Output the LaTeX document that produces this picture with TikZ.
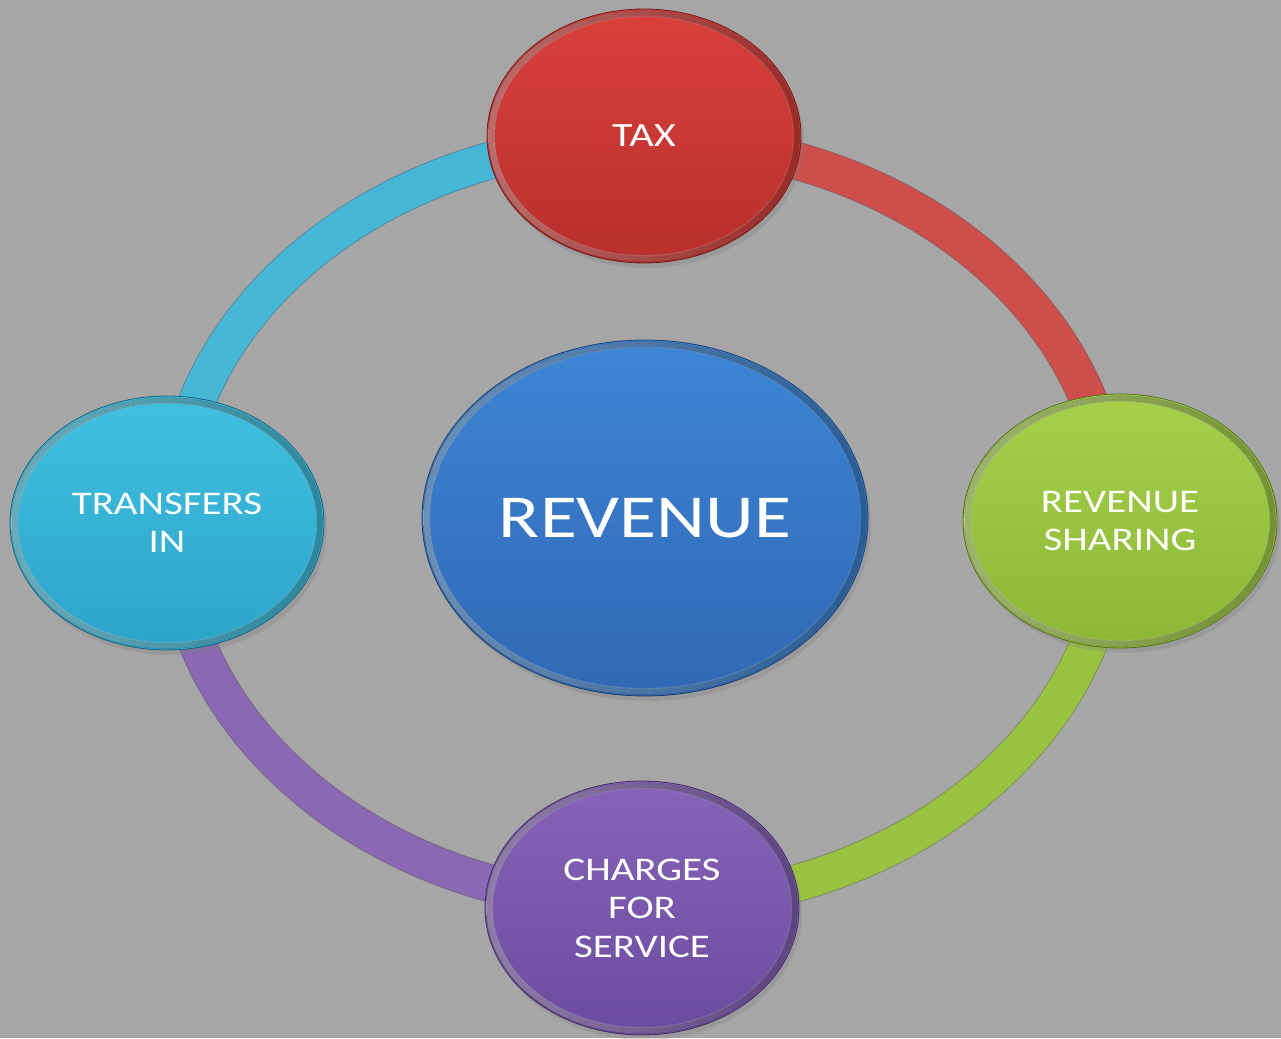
\documentclass[tikz,border=0pt]{standalone}
\usepackage{fontspec}
\setmainfont{Carlito}[FakeStretch=1.24]
\usetikzlibrary{shapes.geometric,shadows,calc}

% palette
\definecolor{canvas}{HTML}{A6A6A6}
\definecolor{redTop}{HTML}{DA403C}
\definecolor{redBot}{HTML}{B8302D}
\definecolor{redRing}{HTML}{CE4E4C}
\definecolor{grnTop}{HTML}{A6D04A}
\definecolor{grnBot}{HTML}{8CB736}
\definecolor{grnRing}{HTML}{98C240}
\definecolor{purTop}{HTML}{8664B8}
\definecolor{purBot}{HTML}{6C4C9E}
\definecolor{purRing}{HTML}{8A68B4}
\definecolor{cyaTop}{HTML}{40C0E0}
\definecolor{cyaBot}{HTML}{2CA4CA}
\definecolor{cyaRing}{HTML}{45B6D6}
\definecolor{bluTop}{HTML}{3D86D6}
\definecolor{bluBot}{HTML}{3168B4}

\tikzset{
  disc/.style={ellipse, inner sep=0pt, text=white, align=center,
    font=\fontsize{33}{38.5}\selectfont,
    line width=0.8pt,
    drop shadow={opacity=0.3, shadow xshift=3pt, shadow yshift=-5pt}},
  small/.style={disc, minimum width=314pt, minimum height=254pt},
  band/.style={line width=36pt},
  bandedge/.style={line width=38pt, opacity=0.55},
}

% bevelled rim of a disc: #1 node, #2/#3 half axes, #4 base colour
\newcommand{\bevelrim}[4]{%
  \fill[even odd rule, opacity=0.7, left color=#4!55!white, right color=#4!88!black]
    (#1.center) ellipse[x radius=#2-1.5, y radius=#3-1.5]
    (#1.center) ellipse[x radius=#2-7.5, y radius=#3-7.5];
  \draw[#4!60!white, opacity=0.35, line width=1pt]
    (#1.center) ellipse[x radius=#2-7.5, y radius=#3-7.5];}

\begin{document}
\begin{tikzpicture}[x=1pt,y=1pt]
  \useasboundingbox (0,0) rectangle (1281,1038);
  \fill[canvas] (0,0) rectangle (1281,1038);

  % centre of the ring
  \coordinate (hub) at (643,516);

  % ring segments between neighbouring discs
  \coordinate (ringN) at ($(hub)+(0,382)$);
  \coordinate (ringE) at ($(hub)+(470,0)$);
  \coordinate (ringS) at ($(hub)+(0,-382)$);
  \coordinate (ringW) at ($(hub)+(-470,0)$);

  \draw[bandedge, redBot!70!black] (ringN) arc[start angle=90, end angle=0, x radius=470, y radius=382];
  \draw[band, redRing] (ringN) arc[start angle=90, end angle=0, x radius=470, y radius=382];
  \draw[bandedge, grnBot!70!black] (ringE) arc[start angle=0, end angle=-90, x radius=470, y radius=382];
  \draw[band, grnRing] (ringE) arc[start angle=0, end angle=-90, x radius=470, y radius=382];
  \draw[bandedge, purBot!70!black] (ringS) arc[start angle=270, end angle=180, x radius=470, y radius=382];
  \draw[band, purRing] (ringS) arc[start angle=270, end angle=180, x radius=470, y radius=382];
  \draw[bandedge, cyaBot!70!black] (ringW) arc[start angle=180, end angle=90, x radius=470, y radius=382];
  \draw[band, cyaRing] (ringW) arc[start angle=180, end angle=90, x radius=470, y radius=382];

  % discs
  \node[disc, minimum width=446pt, minimum height=356pt,
        top color=bluTop, bottom color=bluBot, draw=bluBot!60!black,
        font=\fontsize{61}{70}\selectfont]
        (rev) at (645,520) {REVENUE};
  \bevelrim{rev}{223}{178}{bluTop}

  \node[small, top color=redTop, bottom color=redBot, draw=redBot!60!black,
        font=\fontsize{34}{38}\selectfont]
        (tax) at (644,902) {TAX};
  \bevelrim{tax}{157}{127}{redTop}

  \node[small, top color=grnTop, bottom color=grnBot, draw=grnBot!60!black]
        (rs) at (1120,517) {REVENUE\\SHARING};
  \bevelrim{rs}{157}{127}{grnTop}

  \node[small, top color=purTop, bottom color=purBot, draw=purBot!60!black]
        (cfs) at (642,130) {CHARGES\\FOR\\SERVICE};
  \bevelrim{cfs}{157}{127}{purTop}

  \node[small, top color=cyaTop, bottom color=cyaBot, draw=cyaBot!60!black]
        (ti) at (167,515) {TRANSFERS\\IN};
  \bevelrim{ti}{157}{127}{cyaTop}
\end{tikzpicture}
\end{document}
